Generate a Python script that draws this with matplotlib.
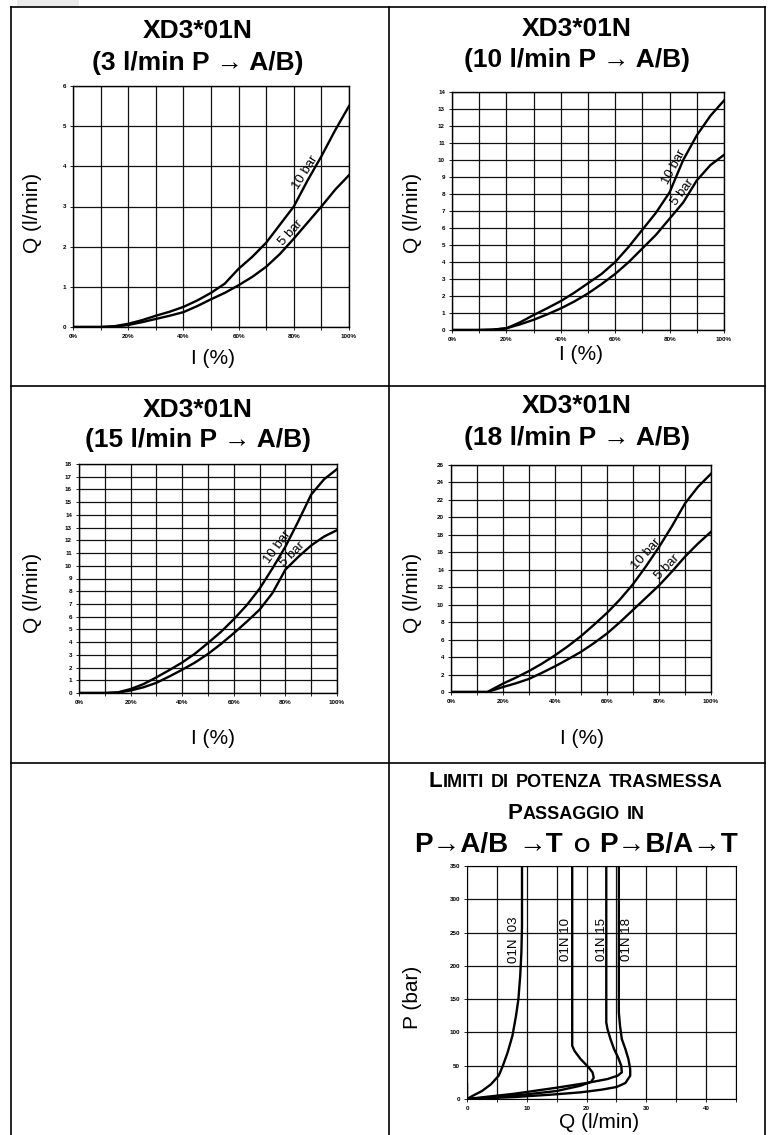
import matplotlib
matplotlib.use('Agg')
import numpy as np
import matplotlib.pyplot as plt
from matplotlib.lines import Line2D
from matplotlib.patches import Rectangle

plt.rcParams['font.family'] = ['Liberation Sans', 'DejaVu Sans']

# ---- data ----
I_PCT = [0, 5, 10, 15, 20, 25, 30, 35, 40, 45, 50, 55, 60, 65, 70, 75, 80, 85, 90, 95, 100]

q03_10bar = [0, 0, 0, 0.02, 0.08, 0.17, 0.28, 0.38, 0.5, 0.66, 0.85, 1.08, 1.45, 1.75, 2.1, 2.55, 3.0, 3.65, 4.25, 4.9, 5.5]
q03_5bar = [0, 0, 0, 0.01, 0.05, 0.12, 0.2, 0.28, 0.37, 0.52, 0.69, 0.85, 1.04, 1.25, 1.5, 1.82, 2.2, 2.6, 3.0, 3.42, 3.78]

q10_10bar = [0, 0, 0, 0.02, 0.1, 0.45, 0.88, 1.28, 1.7, 2.2, 2.75, 3.3, 4.0, 4.9, 5.9, 6.9, 8.1, 10.0, 11.45, 12.6, 13.5]
q10_5bar = [0, 0, 0, 0.02, 0.1, 0.33, 0.6, 0.92, 1.27, 1.68, 2.15, 2.7, 3.3, 4.0, 4.8, 5.6, 6.55, 7.5, 8.8, 9.7, 10.3]

q15_10bar = [0, 0, 0, 0.05, 0.31, 0.7, 1.23, 1.8, 2.4, 3.1, 3.93, 4.8, 5.8, 6.9, 8.2, 9.8, 11.5, 13.5, 15.6, 16.8, 17.6]
q15_5bar = [0, 0, 0, 0.03, 0.2, 0.45, 0.8, 1.3, 1.83, 2.4, 3.07, 3.85, 4.7, 5.6, 6.55, 7.86, 9.7, 10.7, 11.6, 12.3, 12.8]

I_PCT_18 = [0, 5, 10, 14, 20, 25, 30, 35, 40, 45, 50, 55, 60, 65, 70, 75, 80, 85, 90, 95, 100]
q18_10bar = [0, 0, 0, 0, 0.96, 1.65, 2.4, 3.25, 4.2, 5.25, 6.4, 7.7, 9.06, 10.6, 12.35, 14.4, 16.6, 19.0, 21.6, 23.5, 25.0]
q18_5bar = [0, 0, 0, 0, 0.57, 1.0, 1.5, 2.2, 2.94, 3.75, 4.6, 5.6, 6.7, 8.0, 9.4, 10.8, 12.2, 13.8, 15.5, 17.0, 18.35]

# power limits: Q (l/min) vs P (bar)
lim03_q = [0, 0, 1, 2.5, 4, 5.3, 6, 6.8, 7.6, 8.2, 8.6, 8.9, 9.1, 9.2, 9.2]
lim03_p = [22, 0, 5, 12, 22, 35, 50, 70, 95, 125, 150, 185, 220, 260, 350]
lim10_q = [0, 5, 10, 15, 19, 20.8, 21.2, 21, 20.3, 19, 18, 17.6, 17.6]
lim10_p = [0, 3, 7, 12, 20, 26, 32, 40, 48, 60, 72, 80, 350]
lim15_q = [0, 8, 15, 20, 23.5, 25.2, 25.9, 25.8, 25.3, 24.6, 24, 23.5, 23.3, 23.3]
lim15_p = [0, 8, 17, 24, 30, 35, 40, 50, 62, 75, 90, 105, 115, 350]
lim18_q = [0, 8, 14, 19, 22.5, 25, 26.5, 27.3, 27.3, 27, 26.5, 25.9, 25.6, 25.4, 25.4]
lim18_p = [0, 3, 6.5, 10, 14, 18, 24, 35, 45, 60, 75, 90, 110, 130, 350]

W, H = 768, 1135


def fx(px):
    return px / W


def fy(py):
    return 1 - py / H


fig = plt.figure(figsize=(7.68, 11.35), dpi=100)


def add_axes(x0, y0, x1, y1):
    return fig.add_axes([fx(x0), fy(y1), (x1 - x0) / W, (y1 - y0) / H])


def flow_panel(box, q10, q5, ymax, ystep, lab10, lab5, x=I_PCT):
    ax = add_axes(*box)
    ax.plot(x, q10, color='black', lw=1.7)
    ax.plot(x, q5, color='black', lw=1.7)
    ax.set_xlim(0, 100)
    ax.set_ylim(0, ymax)
    xt = list(range(0, 101, 10))
    ax.set_xticks(xt)
    ax.set_xticklabels([f'{v}%' if v % 20 == 0 else '' for v in xt])
    ax.set_yticks(np.arange(0, ymax + 0.01, ystep))
    ax.set_yticklabels([f'{v:g}' for v in np.arange(0, ymax + 0.01, ystep)])
    ax.grid(True, color='#111111', lw=0.9)
    ax.tick_params(labelsize=4.5, length=2, width=0.6, pad=3)
    for lbl in ax.get_xticklabels() + ax.get_yticklabels():
        lbl.set_fontweight('bold')
    for s in ax.spines.values():
        s.set_linewidth(1.0)
    # labels sit just above-left of their curve
    for txt, (lx, rot), q in [('10 bar', lab10, q10), ('5 bar', lab5, q5)]:
        ax.text(lx, np.interp(lx, x, q), txt, rotation=rot, rotation_mode='anchor',
                ha='center', va='bottom', fontsize=9.5)
    return ax


def titles(xc, y1, y2, flow):
    fig.text(fx(xc), fy(y1), 'XD3*01N', fontsize=19, fontweight='bold', ha='center', va='baseline')
    fig.text(fx(xc), fy(y2), f'({flow} l/min P \u2192 A/B)', fontsize=19, fontweight='bold',
             ha='center', va='baseline')


def axis_labels(xl, yl, xtext, ytext):
    fig.text(fx(xl[0]), fy(xl[1]), xtext, fontsize=15, ha='center', va='center')
    fig.text(fx(yl[0]), fy(yl[1]), ytext, fontsize=15, ha='center', va='center', rotation=90)


# panel 1
flow_panel((73, 86, 349, 327), q03_10bar, q03_5bar, 6, 1, (86, 58), (80.5, 48))
titles(198, 38, 70, 3)
axis_labels((213, 358), (33, 213), 'I (%)', 'Q (l/min)')

# panel 2
flow_panel((452, 92, 724, 330), q10_10bar, q10_5bar, 14, 1, (83.5, 62), (86.5, 53))
titles(577, 36, 67, 10)
axis_labels((581, 354), (412, 213), 'I (%)', 'Q (l/min)')

# panel 3
flow_panel((79, 464, 337, 693), q15_10bar, q15_5bar, 18, 1, (79, 54), (84.5, 45))
titles(198, 417, 447, 15)
axis_labels((213, 738), (33, 593), 'I (%)', 'Q (l/min)')

# panel 4
flow_panel((451, 465, 711, 692), q18_10bar, q18_5bar, 26, 2, (77, 48), (85, 46),
           x=I_PCT_18)
titles(577, 413, 445, 18)
axis_labels((582, 738), (412, 593), 'I (%)', 'Q (l/min)')

# panel 5 - power limits
ax5 = add_axes(467, 866, 736, 1099)
for q, p in [(lim03_q, lim03_p), (lim10_q, lim10_p), (lim15_q, lim15_p), (lim18_q, lim18_p)]:
    ax5.plot(q, p, color='black', lw=1.7)
ax5.set_xlim(0, 45)
ax5.set_ylim(0, 350)
ax5.set_xticks(range(0, 46, 5))
ax5.set_xticklabels([str(v) if v % 10 == 0 else '' for v in range(0, 46, 5)])
ax5.set_yticks(range(0, 351, 50))
ax5.grid(True, color='#111111', lw=0.9)
ax5.tick_params(labelsize=4.5, length=2, width=0.6, pad=3)
for lbl in ax5.get_xticklabels() + ax5.get_yticklabels():
    lbl.set_fontweight('bold')
for name, xq in [('01N  03', 7.9), ('01N 10', 16.5), ('01N 15', 22.6), ('01N 18', 26.8)]:
    ax5.text(xq, 239, name, rotation=90, ha='center', va='center', fontsize=9.5)
axis_labels((599, 1123), (412, 997), 'Q (l/min)', 'P (bar)')

# small caps title of panel 5
renderer = fig.canvas.get_renderer()


def caps_line(xc, ybase, words, gap):
    made = []
    total = 0
    for w in words:
        seg = []
        for s, size in w:
            t = fig.text(0, fy(ybase), s, fontsize=size, fontweight='bold', ha='left', va='baseline')
            wpx = t.get_window_extent(renderer).width
            seg.append((t, wpx))
            total += wpx
        made.append(seg)
    total += gap * (len(words) - 1)
    x = xc - total / 2
    for seg in made:
        for t, wpx in seg:
            t.set_x(fx(x))
            x += wpx
        x += gap


caps_line(576, 787, [[('L', 16), ('IMITI', 13)], [('DI', 13)], [('POTENZA', 13)], [('TRASMESSA', 13)]], 7)
caps_line(576, 819, [[('P', 16), ('ASSAGGIO', 13)], [('IN', 13)]], 7)
caps_line(576, 852, [[('P\u2192A/B', 20)], [('\u2192T', 20)], [('O', 15)], [('P\u2192B/A\u2192T', 20)]], 10)

# table frame
fig.add_artist(Rectangle((fx(17), fy(7)), (79 - 17) / W, 7 / H, transform=fig.transFigure,
                         facecolor='#ebebeb', edgecolor='none'))
frame = [((11, 7), (11, 1135)), ((11, 7), (765, 7)), ((765, 7), (765, 1135)),
         ((389, 7), (389, 1135)), ((11, 386), (765, 386)), ((11, 763), (765, 763))]
for (xa, ya), (xb, yb) in frame:
    fig.add_artist(Line2D([fx(xa), fx(xb)], [fy(ya), fy(yb)], transform=fig.transFigure,
                          color='black', lw=1.2))

fig.savefig('out.png', dpi=100)
